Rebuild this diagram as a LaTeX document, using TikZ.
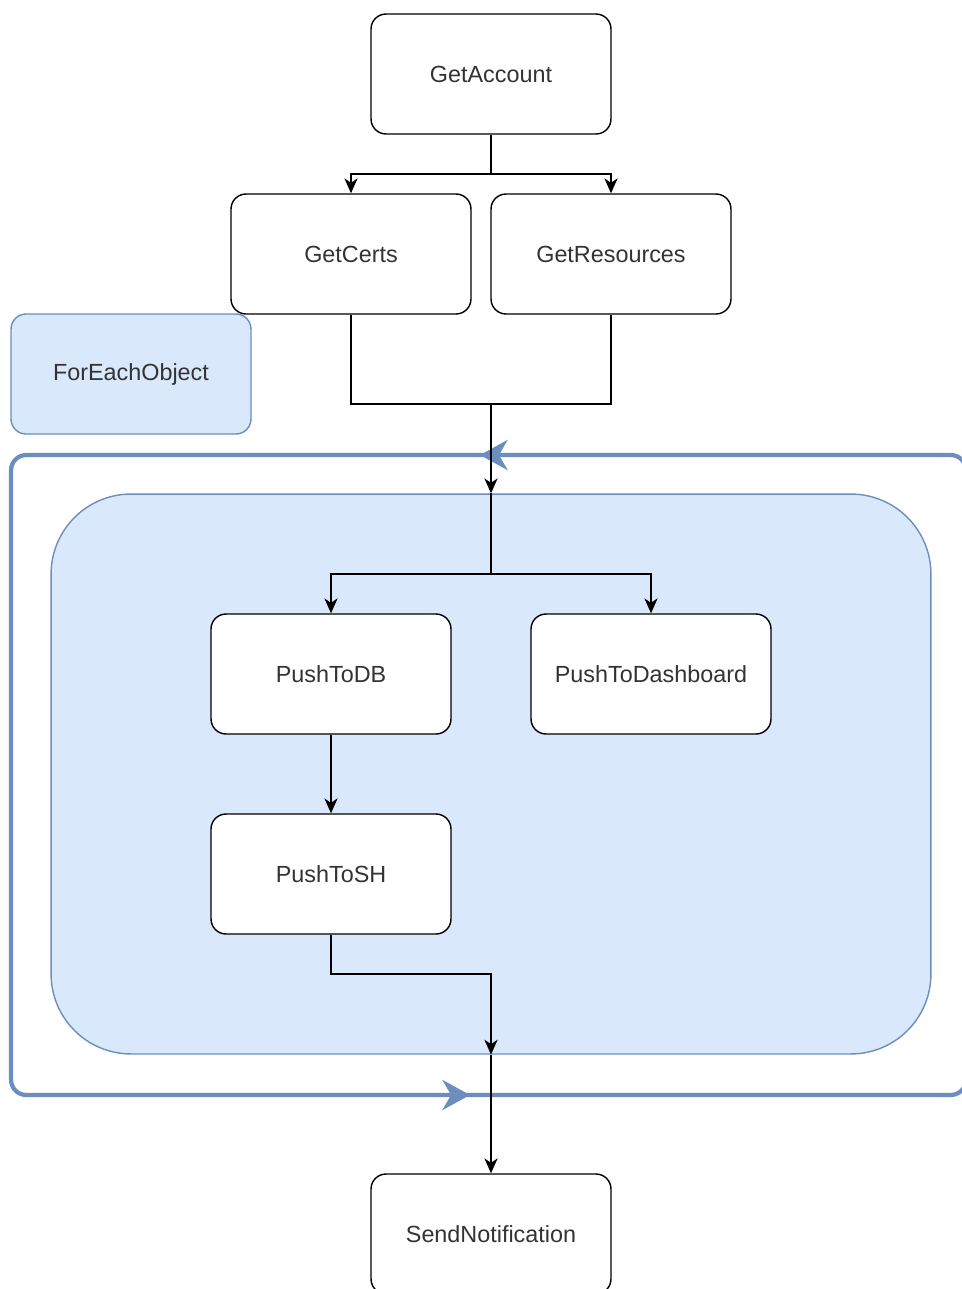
\documentclass[tikz,border=0pt]{standalone}
\usepackage{fontspec}
\setmainfont{Liberation Sans}
\usepackage{tikz}
\usetikzlibrary{arrows.meta, positioning}
\definecolor{loopblue}{HTML}{6C8EBF}
\definecolor{fillblue}{HTML}{DAE8FC}

\begin{document}
\begin{tikzpicture}[x=0.02cm, y=-0.02cm,
        task/.style={draw, line width=0.8pt, rounded corners=0.3cm, fill=white, text=black!80,
            minimum width=4.8cm, minimum height=2.4cm, font=\fontsize{13.3}{16}\selectfont},
        arr/.style={-{Stealth[length=8.5pt, width=7.5pt, inset=2.5pt]}, line width=0.8pt},
        looparr/.style={draw=loopblue, line width=2.4pt,
            -{Stealth[length=0.55cm, width=0.6cm, inset=0.17cm]}}]
                    \useasboundingbox (0,0) rectangle (962,1289);

                    \node[draw=loopblue, line width=2.4pt, rounded corners=0.3cm,
                        minimum width=19.1cm, minimum height=12.8cm] (loop) at (488.5,775) {};
                    \node[draw=loopblue, line width=0.8pt, fill=fillblue, rounded corners=1.6cm,
                        minimum width=17.6cm, minimum height=11.2cm] (body) at (491,774) {};

                    \node[task] (account) at (491,74) {GetAccount};
                    \node[task] (certs) at (351,254) {GetCerts};
                    \node[task] (resources) at (611,254) {GetResources};
                    \node[task, draw=loopblue, fill=fillblue] (foreach) at (131,374) {ForEachObject};
                    \node[task] (db) at (331,674) {PushToDB};
                    \node[task] (dash) at (651,674) {PushToDashboard};
                    \node[task] (sh) at (331,874) {PushToSH};
                    \node[task] (notify) at (491,1234) {SendNotification};

                    \coordinate (j1) at (491,174);
                    \coordinate (j2) at (491,404);
                    \coordinate (j3) at (491,574);
                    \coordinate (j4) at (491,974);

                    \draw[line width=0.8pt] (account.south) -- (j1);
                    \draw[arr] (j1) -| (certs.north);
                    \draw[arr] (j1) -| (resources.north);
                    \draw[line width=0.8pt] (certs.south) |- (j2) -| (resources.south);

                    \draw[looparr] (508,455) -- (480,455);
                    \draw[looparr] (440,1095) -- (470,1095);

                    \draw[arr] (j2) -- (body.north);
                    \draw[line width=0.8pt] (body.north) -- (j3);
                    \draw[arr] (j3) -| (db.north);
                    \draw[arr] (j3) -| (dash.north);
                    \draw[arr] (db) -- (sh);
                    \draw[arr] (sh.south) |- (j4) -- (body.south);
                    \draw[arr] (body.south) -- (notify.north);
                \end{tikzpicture}
\end{document}
